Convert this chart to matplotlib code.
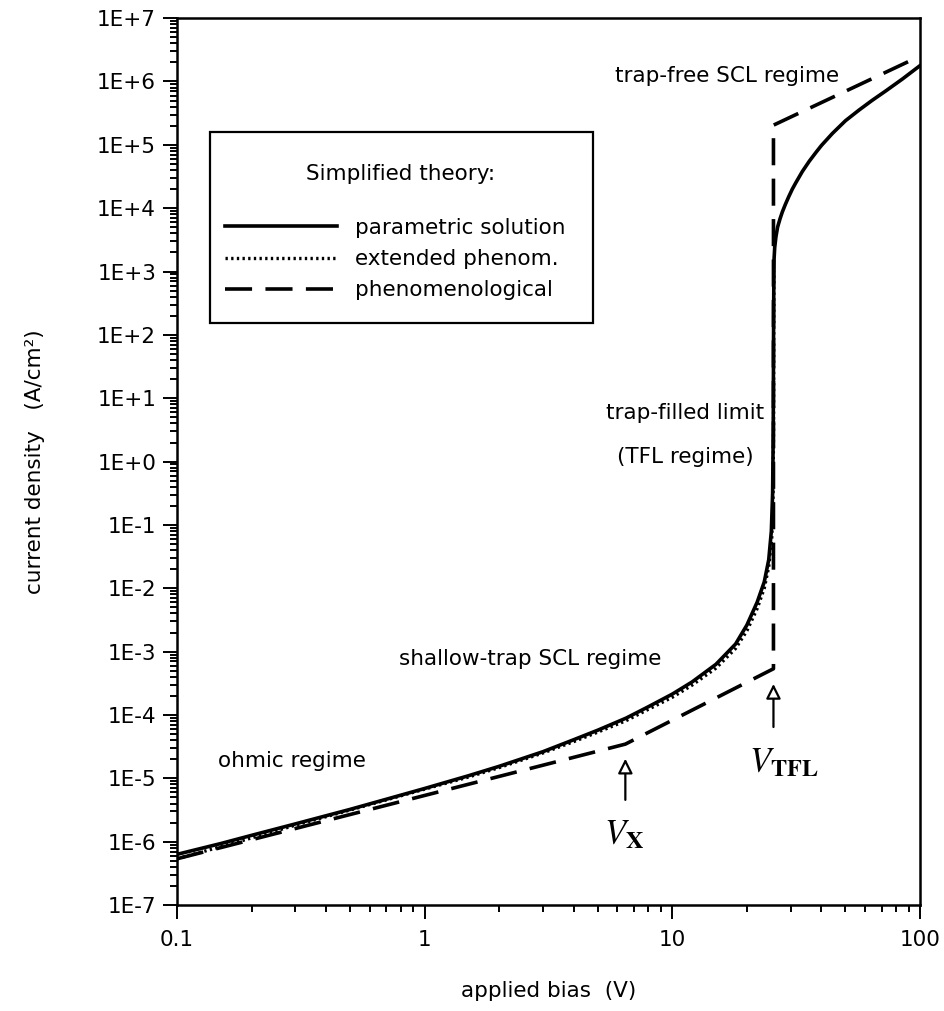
import matplotlib.pyplot as plt
import numpy as np
from matplotlib.lines import Line2D
from matplotlib.patches import Rectangle
from matplotlib.ticker import FixedLocator, LogLocator, NullFormatter

plt.rcParams['font.family'] = ['DejaVu Sans']
plt.rcParams['mathtext.fontset'] = 'stix'

# applied bias (V) and log10 of current density (A/cm^2)
bias_param = [0.1, 0.15, 0.2, 0.3, 0.5, 0.7, 1.0, 1.5, 2.0, 3.0, 4.0, 5.0, 6.5, 8.0,
              10, 12, 15, 18, 20, 22, 23.5, 24.5, 25.1, 25.4, 25.55, 25.62, 25.68,
              25.75, 25.9, 26.2, 26.6, 27.2, 27.8, 28.6, 29.5, 30.5, 31.5, 33.5, 35.7,
              38, 40, 44.3, 50, 56.8, 64, 72.7, 85, 100]
logj_param = [-6.20, -6.03, -5.90, -5.72, -5.49, -5.33, -5.16, -4.96, -4.81, -4.58,
              -4.39, -4.24, -4.05, -3.87, -3.67, -3.48, -3.20, -2.88, -2.58, -2.22,
              -1.90, -1.55, -1.10, -0.50, 0.50, 2.00, 2.80,
              3.20, 3.38, 3.55, 3.70, 3.83, 3.94, 4.06, 4.18, 4.30, 4.40, 4.58, 4.74,
              4.88, 4.99, 5.18, 5.38, 5.55, 5.70, 5.85, 6.04, 6.25]

bias_ext = [0.1, 0.15, 0.2, 0.3, 0.5, 0.7, 1.0, 1.5, 2.0, 3.0, 4.0, 5.0, 6.5, 8.0,
            10, 12, 15, 18, 20, 22, 23.5, 24.5, 25.2, 25.5, 25.62, 25.7]
logj_ext = [-6.27, -6.08, -5.94, -5.74, -5.50, -5.34, -5.17, -4.98, -4.83, -4.60,
            -4.42, -4.27, -4.09, -3.91, -3.72, -3.53, -3.26, -2.95, -2.67, -2.32,
            -2.00, -1.66, -1.20, -0.60, 0.50, 3.00]

bias_phen = [0.1, 6.46, 25.6, 25.6, 100]
logj_phen = [-6.27, -4.46, -3.27, 5.31, 6.40]

V_X = 6.46
V_TFL = 25.6

xticks = [0.1, 1, 10, 100]
xtick_labels = ['0.1', '1', '10', '100']
ydecades = list(range(-7, 8))
ytick_labels = ['1E%+d' % d for d in ydecades]

fig = plt.figure(figsize=(9.44, 10.11), dpi=100)
ax = fig.add_axes([0.1875, 0.1048, 0.7871, 0.8773])

lw = 2.6
ax.plot(bias_phen, 10.0 ** np.array(logj_phen), color='black', lw=lw,
        dashes=(7.5, 3.7), solid_capstyle='butt')
ax.plot(bias_ext, 10.0 ** np.array(logj_ext), color='black', lw=2.4,
        dashes=(0.7, 1.0))
ax.plot(bias_param, 10.0 ** np.array(logj_param), color='black', lw=lw)

ax.set_xscale('log')
ax.set_yscale('log')
ax.set_xlim(0.1, 100)
ax.set_ylim(1e-7, 1e7)

ax.xaxis.set_major_locator(FixedLocator(xticks))
ax.set_xticklabels(xtick_labels)
ax.yaxis.set_major_locator(FixedLocator([10.0 ** d for d in ydecades]))
ax.set_yticklabels(ytick_labels)
ax.xaxis.set_minor_locator(LogLocator(base=10, subs=np.arange(2, 10), numticks=50))
ax.yaxis.set_minor_locator(LogLocator(base=10, subs=np.arange(2, 10), numticks=50))
ax.xaxis.set_minor_formatter(NullFormatter())
ax.yaxis.set_minor_formatter(NullFormatter())

ax.tick_params(which='both', direction='out', top=False, right=False, width=1.4,
               labelsize=15.5)
ax.tick_params(which='major', length=10)
ax.tick_params(which='minor', length=5)
ax.tick_params(axis='x', which='major', pad=8)
ax.tick_params(axis='y', which='major', pad=5)
for s in ax.spines.values():
    s.set_linewidth(1.8)

ax.set_xlabel('applied bias  (V)', fontsize=15.5)
ax.xaxis.set_label_coords(0.5, -0.086)
ax.set_ylabel('current density   (A/cm\u00b2)', fontsize=15.5)
ax.yaxis.set_label_coords(-0.178, 0.5)

# regime labels
ax.text(16.7, 10 ** 5.99, 'trap-free SCL regime', ha='center', va='baseline', fontsize=15.5)
ax.text(11.3, 10 ** 0.67, 'trap-filled limit', ha='center', va='baseline', fontsize=15.5)
ax.text(11.3, 10 ** -0.025, '(TFL regime)', ha='center', va='baseline', fontsize=15.5)
ax.text(2.67, 10 ** -3.21, 'shallow-trap SCL regime', ha='center', va='baseline', fontsize=15.5)
ax.text(0.29, 10 ** -4.82, 'ohmic regime', ha='center', va='baseline', fontsize=15.5)

# crossover markers
arrow = dict(arrowstyle='-|>', fc='white', ec='black', lw=1.6, mutation_scale=22,
             shrinkA=0, shrinkB=0)
ax.annotate('', xy=(V_X, 10 ** -4.69), xytext=(V_X, 10 ** -5.34), arrowprops=arrow)
ax.annotate('', xy=(V_TFL, 10 ** -3.51), xytext=(V_TFL, 10 ** -4.19), arrowprops=arrow)
ax.text(6.4, 10 ** -5.88, r'$V_{\mathbf{X}}$', ha='center', va='center', fontsize=25)
ax.text(28.1, 10 ** -4.74, r'$V_{\mathbf{TFL}}$', ha='center', va='center', fontsize=25)

# legend box with its heading
ax.add_patch(Rectangle((0.0444, 0.656), 0.5155, 0.2155, transform=ax.transAxes,
                       fill=False, ec='black', lw=1.6))
ax.text(0.3015, 0.824, 'Simplified theory:', transform=ax.transAxes,
        ha='center', va='center', fontsize=15.5)
handles = [Line2D([], [], color='black', lw=lw),
           Line2D([], [], color='black', lw=2.4, dashes=(0.7, 1.0)),
           Line2D([], [], color='black', lw=lw, dashes=(7.5, 3.7))]
labels = ['parametric solution', 'extended phenom.', 'phenomenological']
ax.legend(handles, labels, loc='upper left', bbox_to_anchor=(0.0646, 0.775),
          frameon=False, fontsize=15.5, handlelength=5.2, handletextpad=0.85,
          labelspacing=0.53, borderpad=0, borderaxespad=0)

fig.savefig('out.png', dpi=100)
